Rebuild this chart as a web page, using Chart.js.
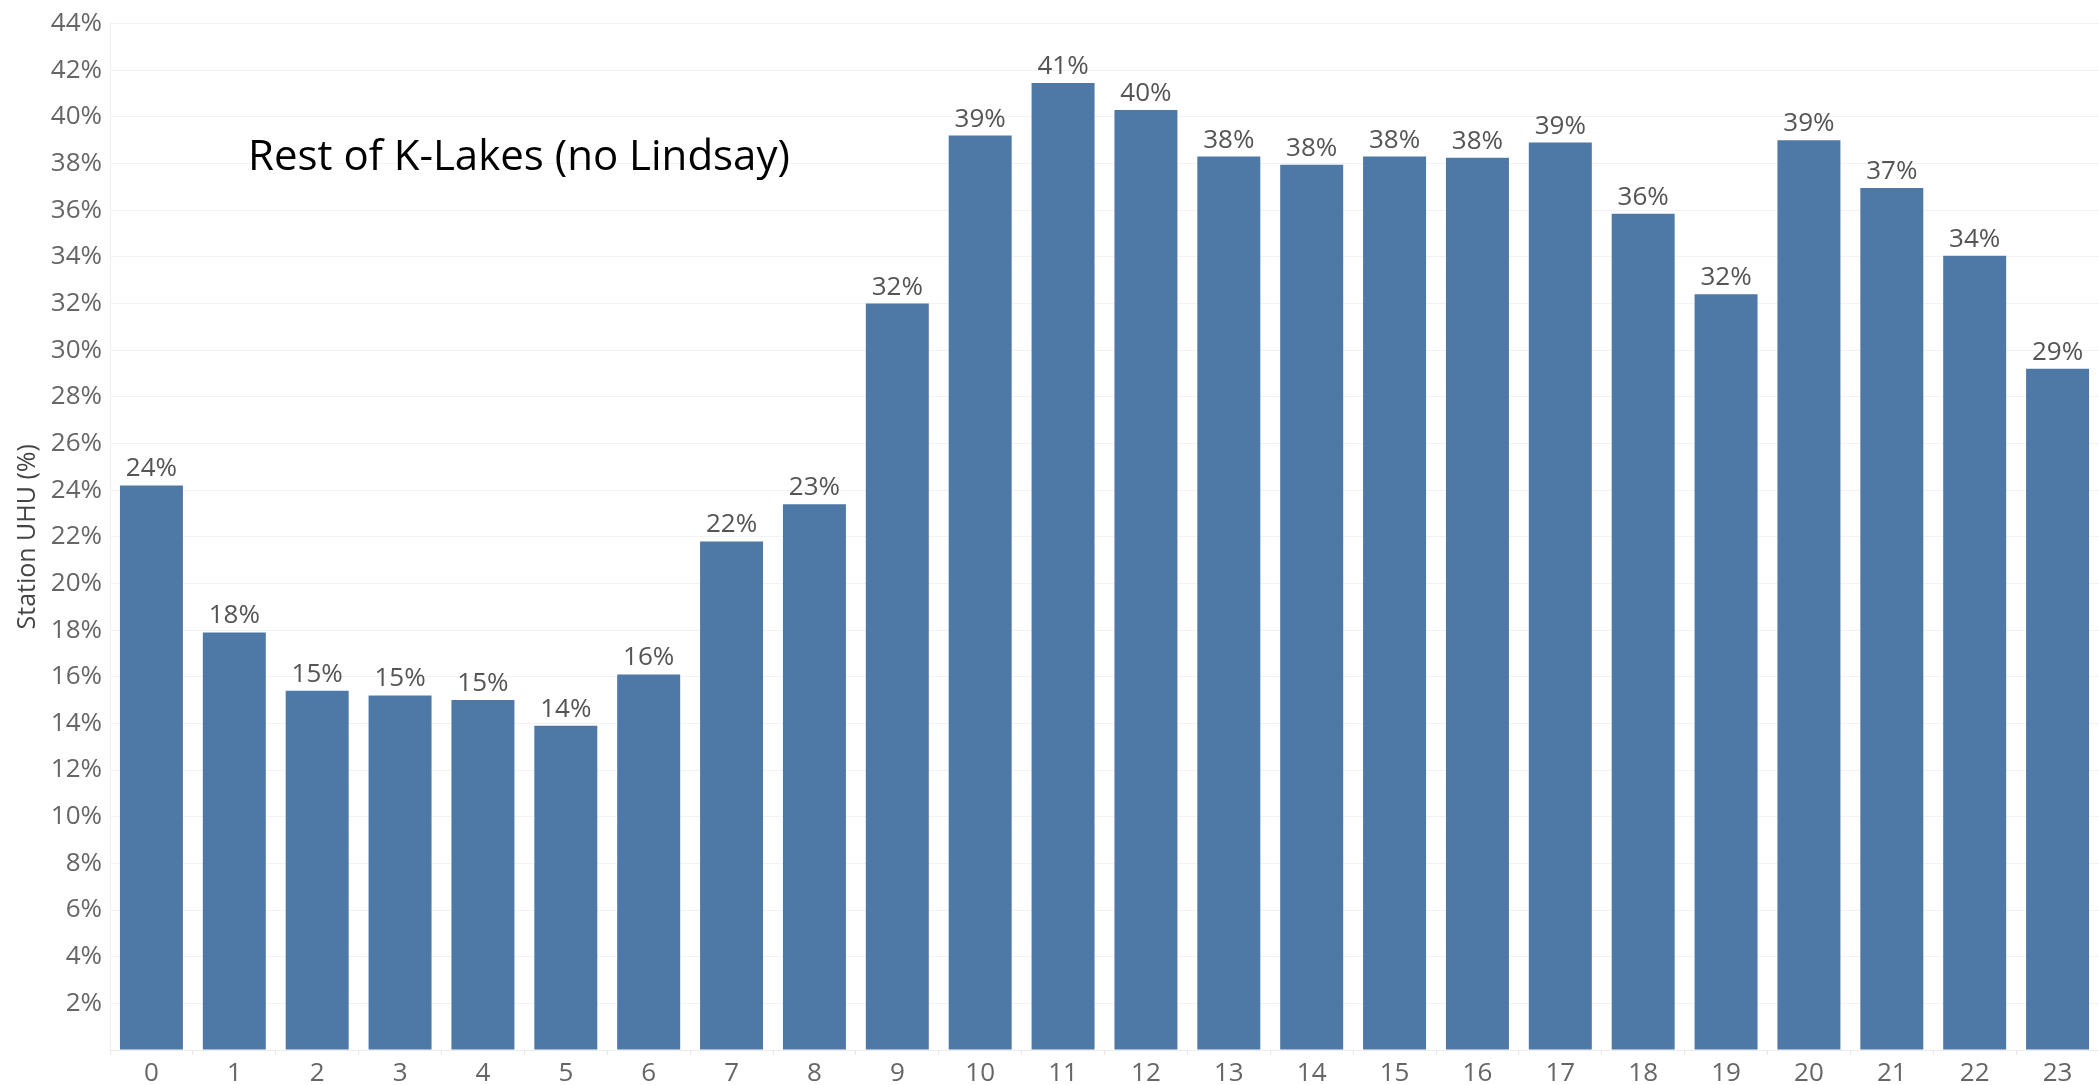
<!DOCTYPE html>
<html lang="en">
<head>
    <meta charset="UTF-8">
    <title>Station UHU by hour - Rest of K-Lakes</title>
    <script src="https://cdn.jsdelivr.net/npm/chart.js"></script>
    <style>
        html, body { margin: 0; padding: 0; background: #fff; }
        #wrap { position: relative; width: 2099px; height: 1085px; }
        #overlayTitle {
            position: absolute;
            left: 248px;
            top: 133px;
            font-family: "Open Sans", sans-serif;
            font-size: 42px;
            line-height: 1;
            color: #000;
            white-space: nowrap;
        }
    </style>
</head>
<body>
    <div id="wrap">
        <canvas id="uhuChart"></canvas>
        <div id="overlayTitle">Rest of K-Lakes (no Lindsay)</div>
    </div>

    <script>
        // hour of day
        const hours = ['0', '1', '2', '3', '4', '5', '6', '7', '8', '9', '10', '11',
                       '12', '13', '14', '15', '16', '17', '18', '19', '20', '21', '22', '23'];
        // Station UHU (%)
        const uhuValues = [24.2, 17.9, 15.4, 15.2, 15.0, 13.9, 16.1, 21.8, 23.4, 32.0, 39.2, 41.45,
                           40.3, 38.3, 37.95, 38.3, 38.25, 38.9, 35.85, 32.4, 39.0, 36.95, 34.05, 29.2];
        // labels shown above the bars
        const uhuLabels = [24, 18, 15, 15, 15, 14, 16, 22, 23, 32, 39, 41,
                           40, 38, 38, 38, 38, 39, 36, 32, 39, 37, 34, 29];
        const yTickValues = [0, 2, 4, 6, 8, 10, 12, 14, 16, 18, 20, 22, 24, 26, 28, 30, 32, 34, 36, 38, 40, 42, 44];

        const barColor = '#4e79a7';
        const fontFamily = '"Open Sans", sans-serif';

        // draws the % value above every bar
        const valueLabels = {
            id: 'valueLabels',
            afterDatasetsDraw(chart) {
                const ctx = chart.ctx;
                const meta = chart.getDatasetMeta(0);
                ctx.save();
                ctx.font = '26px ' + fontFamily;
                ctx.fillStyle = '#555555';
                ctx.textAlign = 'center';
                ctx.textBaseline = 'alphabetic';
                meta.data.forEach((bar, i) => {
                    ctx.fillText(uhuLabels[i] + '%', bar.x, bar.y - 9);
                });
                ctx.restore();
            }
        };

        const ctx = document.getElementById('uhuChart').getContext('2d');
        new Chart(ctx, {
            type: 'bar',
            data: {
                labels: hours,
                datasets: [{
                    label: 'Station UHU (%)',
                    data: uhuValues,
                    backgroundColor: barColor,
                    borderWidth: 0,
                    barPercentage: 0.76,
                    categoryPercentage: 1.0
                }]
            },
            options: {
                responsive: true,
                maintainAspectRatio: false,
                animation: false,
                layout: { padding: { top: 18, right: 0, bottom: 0, left: 0 } },
                plugins: {
                    legend: { display: false },
                    tooltip: { enabled: false }
                },
                scales: {
                    x: {
                        offset: true,
                        grid: {
                            display: true,
                            offset: true,
                            drawOnChartArea: false,
                            drawTicks: true,
                            tickLength: 5,
                            color: '#e6e6e6'
                        },
                        border: { display: true, color: '#ececec' },
                        ticks: {
                            color: '#666666',
                            padding: 3,
                            maxRotation: 0,
                            font: { family: fontFamily, size: 26 }
                        },
                        afterFit(scale) { scale.height = 35; }
                    },
                    y: {
                        min: 0,
                        max: 44,
                        afterBuildTicks(scale) {
                            scale.ticks = yTickValues.map(v => ({ value: v }));
                        },
                        grid: {
                            color: '#f2f2f2',
                            drawTicks: false
                        },
                        border: { display: true, color: '#ececec' },
                        ticks: {
                            color: '#666666',
                            padding: 8,
                            font: { family: fontFamily, size: 26 },
                            callback: function(value) {
                                return value === 0 ? '' : value + '%';
                            }
                        },
                        title: {
                            display: true,
                            text: 'Station UHU (%)',
                            color: '#444444',
                            padding: { top: 13, bottom: 0 },
                            font: { family: fontFamily, size: 25 }
                        },
                        afterFit(scale) { scale.width = 110; }
                    }
                }
            },
            plugins: [valueLabels]
        });
    </script>
</body>
</html>
